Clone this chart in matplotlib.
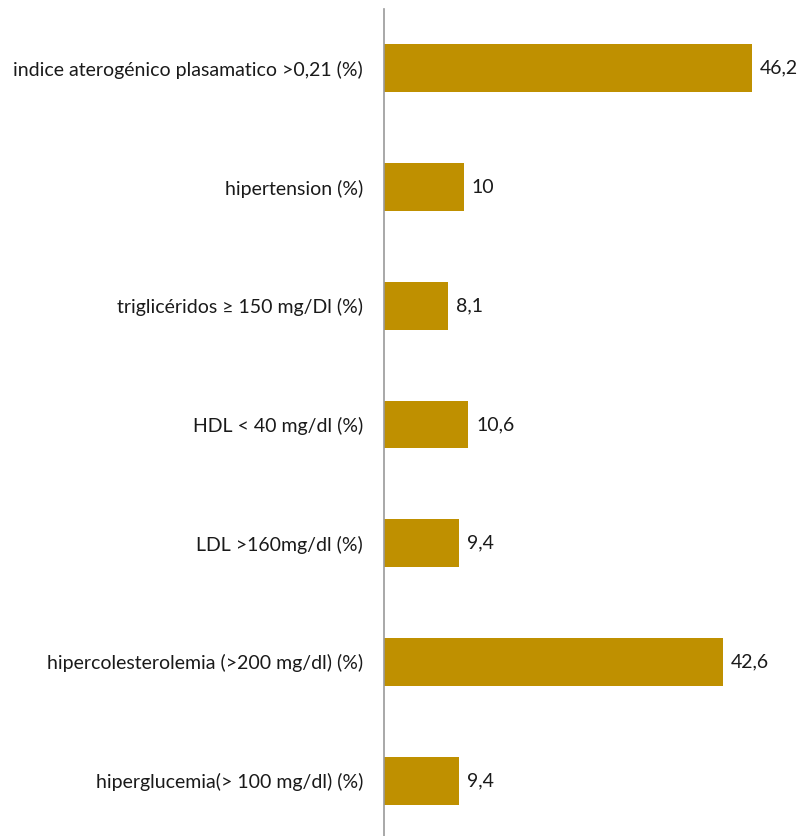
import matplotlib
matplotlib.use("Agg")
import matplotlib.pyplot as plt

categories = [
    "indice aterogénico plasamatico >0,21 (%)",
    "hipertension (%)",
    "triglicéridos ≥ 150 mg/Dl (%)",
    "HDL < 40 mg/dl (%)",
    "LDL >160mg/dl (%)",
    "hipercolesterolemia (>200 mg/dl) (%)",
    "hiperglucemia(> 100 mg/dl) (%)",
]
values = [46.2, 10, 8.1, 10.6, 9.4, 42.6, 9.4]
value_labels = ["46,2", "10", "8,1", "10,6", "9,4", "42,6", "9,4"]

plt.rcParams["font.family"] = ["Lato", "DejaVu Sans"]

W, H = 801, 836
fig = plt.figure(figsize=(W / 100, H / 100), dpi=100)
ax = fig.add_axes([384 / W, -4 / H, (798 - 384) / W, (840 - 9) / H])

pos = list(range(len(categories)))
ax.barh(pos, values, height=0.404, color="#BF9000", edgecolor="none")
ax.set_ylim(len(categories) - 0.5, -0.5)
ax.set_xlim(0, 52)

for p, v, lab in zip(pos, values, value_labels):
    ax.annotate(lab, (v, p), xytext=(8, 0), textcoords="offset pixels",
                va="center", ha="left", fontsize=14, color="#1a1a1a")

ax.set_yticks(pos)
ax.set_yticklabels(categories, fontsize=14, color="#1a1a1a")
ax.tick_params(axis="y", length=0, pad=15)
ax.set_xticks([])
for s in ["top", "right", "bottom"]:
    ax.spines[s].set_visible(False)
ax.spines["left"].set_color("#999999")
ax.spines["left"].set_linewidth(1.2)

fig.savefig("out.png", dpi=100)
